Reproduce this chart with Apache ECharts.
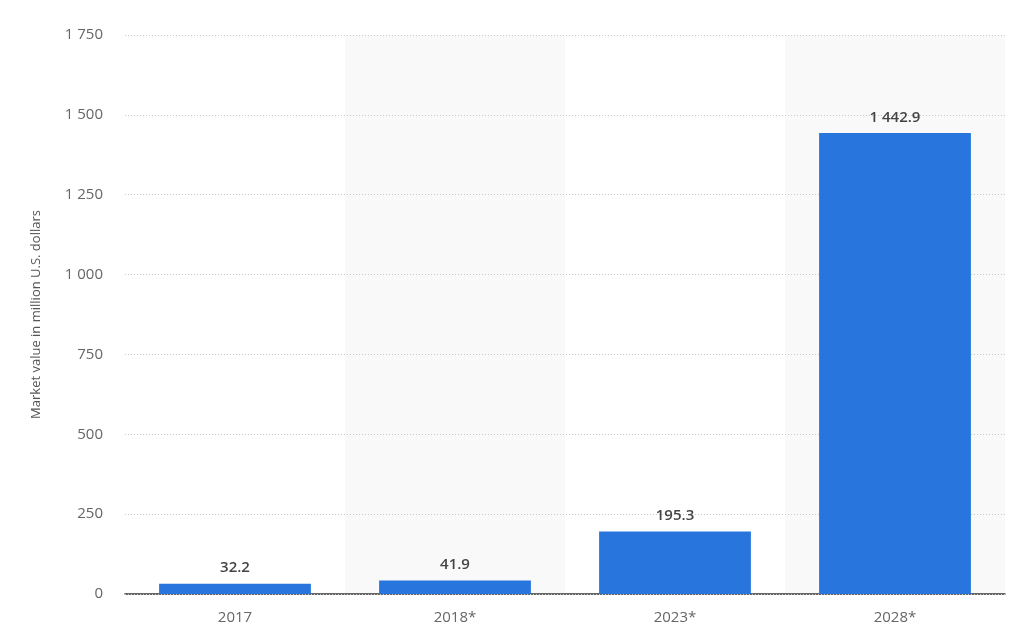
<!DOCTYPE html>
<html>
<head>
<meta charset="utf-8">
<script src="https://cdn.jsdelivr.net/npm/echarts@6/dist/echarts.min.js"></script>
<style>html,body{margin:0;padding:0;background:#fff}#c{width:1024px;height:642px}</style>
</head>
<body>
<div id="c"></div>
<script>
var categories = ['2017', '2018*', '2023*', '2028*'];
var values = [32.2, 41.9, 195.3, 1442.9];
var yTicks = [0, 250, 500, 750, 1000, 1250, 1500, 1750];

function fmt(v) {
  var parts = String(v).split('.');
  parts[0] = parts[0].replace(/\B(?=(\d{3})+(?!\d))/g, ' ');
  return parts.join('.');
}

var chart = echarts.init(document.getElementById('c'));
chart.setOption({
  animation: false,
  grid: { left: 125, right: 19, top: 35, bottom: 48 },
  xAxis: {
    type: 'category',
    data: categories,
    z: 0,
    axisLine: { lineStyle: { color: '#333', width: 1.5 } },
    axisTick: { show: false },
    axisLabel: { color: '#666', fontSize: 15, margin: 16, fontFamily: 'Open Sans' },
    splitArea: { show: true, areaStyle: { color: ['rgba(0,0,0,0)', '#f9f9f9'] } }
  },
  yAxis: {
    type: 'value',
    z: 2,
    min: yTicks[0],
    max: yTicks[yTicks.length - 1],
    interval: 250,
    name: 'Market value in million U.S. dollars',
    nameLocation: 'middle',
    nameGap: 82,
    nameTextStyle: { color: '#555', fontSize: 13, fontFamily: 'Open Sans' },
    axisLabel: { color: '#666', fontSize: 15, margin: 22, fontFamily: 'Open Sans', formatter: function (v) { return fmt(v); } },
    axisLine: { show: false },
    axisTick: { show: false },
    splitLine: { lineStyle: { color: '#c8c8c8', type: [1, 2], width: 1 } }
  },
  series: [{
    type: 'bar',
    z: 3,
    data: values,
    barWidth: '69%',
    itemStyle: { color: '#2876dd' },
    label: {
      show: true,
      position: 'top',
      distance: 8,
      color: '#444',
      fontSize: 15,
      fontWeight: 600,
      fontFamily: 'Open Sans',
      formatter: function (p) { return fmt(p.value); }
    }
  }]
});
</script>
</body>
</html>
